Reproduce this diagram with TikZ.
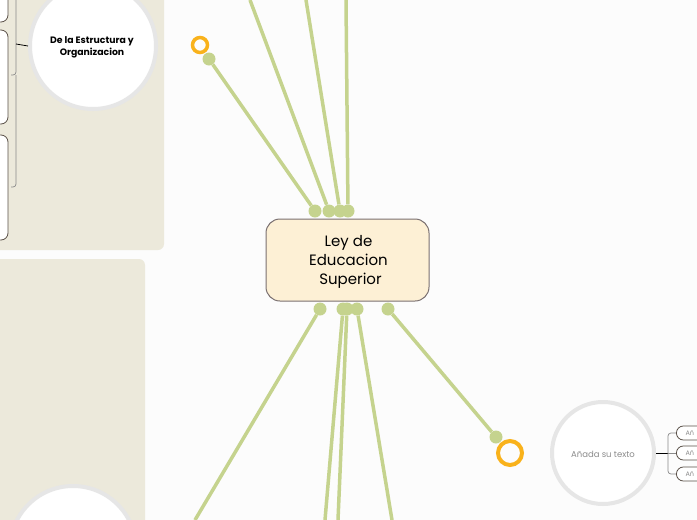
\documentclass[tikz,border=0pt]{standalone}
\usepackage{fontspec}
\setmainfont{Poppins}
\definecolor{bgc}{HTML}{FCFCFC}
\definecolor{panel}{HTML}{ECE9DB}
\definecolor{leaf}{HTML}{C5D38E}
\definecolor{ring}{HTML}{F9B21B}
\definecolor{cream}{HTML}{FDF0D5}
\definecolor{cborder}{HTML}{7A7070}
\definecolor{circb}{HTML}{E6E6E6}
\definecolor{brk}{HTML}{8A8A8A}
\definecolor{boxb}{HTML}{5A5048}
\definecolor{greytxt}{HTML}{8C8C8C}
\tikzset{
  conn/.style={draw=leaf, line width=3.5pt},
  gdot/.style={circle, fill=leaf, inner sep=0pt, minimum size=13pt},
  oring/.style={circle, draw=ring, inner sep=0pt},
  bigcirc/.style={circle, fill=white, draw=circb, line width=4pt, inner sep=0pt, minimum size=126pt},
  leafbox/.style={draw=boxb, line width=0.8pt, fill=white, rounded corners=7pt},
  bracket/.style={draw=brk, line width=0.7pt, rounded corners=3pt},
  smalltxt/.style={font=\fontsize{6.5}{8}\selectfont, text=greytxt, anchor=west},
}
\begin{document}
\begin{tikzpicture}[x=1pt,y=-1pt]
\useasboundingbox (0,0) rectangle (697,520);
\clip (0,0) rectangle (697,520);
\fill[bgc] (0,0) rectangle (697,520);
% panels
\fill[panel, rounded corners=6pt] (-20,-20) rectangle (164,250);
\fill[panel, rounded corners=6pt] (-20,259) rectangle (145,540);
% left boxes
\draw[leafbox] (-40,-30) rectangle (8,22);
\draw[leafbox] (-40,30) rectangle (8,124);
\draw[leafbox] (-40,135) rectangle (8,240);
% brackets
\draw[bracket] (16,-5) -- (16,75) -- (11,75);
\draw[bracket] (16,75) -- (16,187) -- (11,187);
% top circle
\node[bigcirc] (estr) at (93,46) {};
\node[font=\bfseries\fontsize{9.3}{12}\selectfont, align=center] (estrt) at (92,47) {De la Estructura y\\Organizacion};
\draw[black, line width=0.8pt] (16,44) -- (estr.west);
% lower circle
\node[bigcirc] (lowc) at (73,549) {};
% central node
\node[draw=cborder, fill=cream, line width=1pt, rounded corners=14pt, minimum width=163pt, minimum height=82pt, inner sep=0pt] (ley) at (347.5,260) {};
\node[font=\fontsize{15}{19}\selectfont, align=center] (leyt) at (348.5,262) {Ley de\\Educacion\\\ Superior};
% top connectors
\coordinate (t1) at (250,0);
\coordinate (t2) at (306,0);
\coordinate (t3) at (346,0);
\node[gdot] (d1) at (315,211) {};
\node[gdot] (d2) at (329,211) {};
\node[gdot] (d3) at (340,211) {};
\node[gdot] (d4) at (348,211) {};
\node[gdot] (e1) at (209,59) {};
\node[oring, line width=3.5pt, minimum size=15pt] (r1) at (200,45) {};
\draw[conn] (d1) -- (e1);
\draw[conn] (d2) -- (t1);
\draw[conn] (d3) -- (t2);
\draw[conn] (d4) -- (t3);
% bottom connectors
\coordinate (b1) at (195,520);
\coordinate (b2) at (325,520);
\coordinate (b3) at (338,520);
\coordinate (b4) at (392,520);
\node[gdot] (u1) at (320,309) {};
\node[gdot] (u2) at (343,309) {};
\node[gdot] (u3) at (347,309) {};
\node[gdot] (u4) at (357,309) {};
\node[gdot] (u5) at (388,309) {};
\node[gdot] (e2) at (496,437) {};
\node[oring, line width=4pt, minimum size=24pt] (r2) at (510,453) {};
\draw[conn] (u1) -- (b1);
\draw[conn] (u2) -- (b2);
\draw[conn] (u3) -- (b3);
\draw[conn] (u4) -- (b4);
\draw[conn] (u5) -- (e2);
% right circle
\node[circle, fill=white, draw=circb, line width=4pt, inner sep=0pt, minimum size=102pt] (ana) at (603,453) {};
\node[font=\fontsize{8.5}{10}\selectfont, text=greytxt] (anat) at (603,454) {Añada su texto};
\draw[black, line width=0.8pt] (ana.east) -- (668,453);
\draw[bracket] (676,433) -- (668,433) -- (668,474) -- (676,474);
\draw[bracket] (668,453) -- (676,453);
\node[leafbox, minimum width=60pt, minimum height=14pt, inner sep=0pt, anchor=west] (k1) at (676,433) {};
\node[leafbox, minimum width=60pt, minimum height=14pt, inner sep=0pt, anchor=west] (k2) at (676,453) {};
\node[leafbox, minimum width=60pt, minimum height=14pt, inner sep=0pt, anchor=west] (k3) at (676,474) {};
\node[smalltxt] (k1t) at (682,433) {Añ};
\node[smalltxt] (k2t) at (682,453) {Añ};
\node[smalltxt] (k3t) at (682,474) {Añ};
\end{tikzpicture}
\end{document}
